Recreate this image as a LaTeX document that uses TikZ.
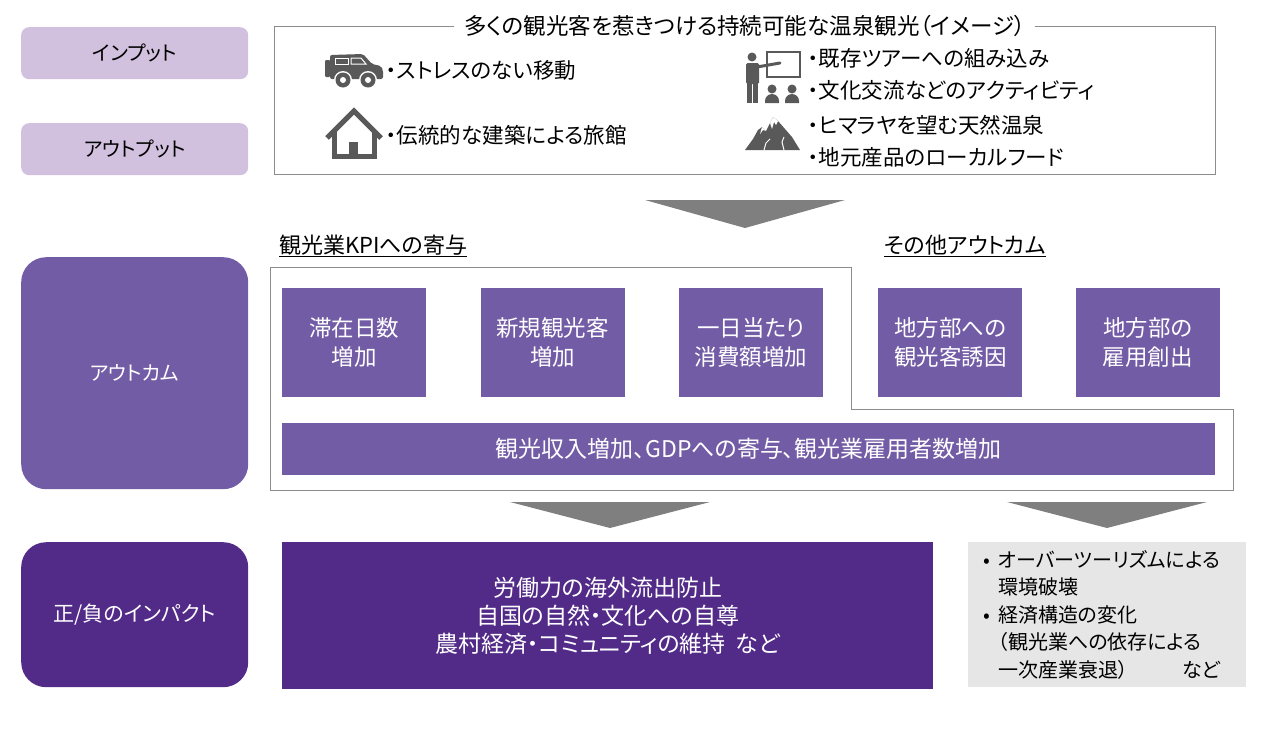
\documentclass[tikz,border=0pt]{standalone}
\usepackage{fontspec}
\setmainfont{Noto Sans CJK JP}[RawFeature=+palt]
\usetikzlibrary{positioning,calc}

\definecolor{lavender}{HTML}{D1C0DE}
\definecolor{midpurple}{HTML}{735CA6}
\definecolor{darkpurple}{HTML}{522A88}
\definecolor{arrowgrey}{HTML}{7F7F7F}
\definecolor{icongrey}{HTML}{595959}
\definecolor{boxgrey}{HTML}{E7E6E6}
\definecolor{linegrey}{HTML}{8C8C8C}

\begin{document}
\begin{tikzpicture}[x=1pt, y=-1pt,
    stagelight/.style={fill=lavender, rounded corners=8pt, minimum width=227pt, minimum height=52pt, inner sep=0pt, anchor=north west, font=\fontsize{20}{24}\selectfont},
    stagemid/.style={fill=midpurple, text=white, rounded corners=25pt, minimum width=227pt, minimum height=232pt, inner sep=0pt, anchor=north west, font=\fontsize{20}{24}\selectfont},
    stagedark/.style={fill=darkpurple, text=white, rounded corners=25pt, minimum width=227pt, minimum height=145pt, inner sep=0pt, anchor=north west, font=\fontsize{21}{24}\selectfont},
    itemtext/.style={anchor=west, inner sep=0pt, font=\fontsize{21.5}{24}\selectfont},
    header/.style={anchor=west, inner sep=0pt, font=\fontsize{22}{24}\selectfont},
    kpibox/.style={fill=midpurple, text=white, minimum width=144pt, minimum height=109pt, inner sep=0pt, align=center, anchor=north west, font=\fontsize{22.5}{29}\selectfont},
    downarrow/.style={fill=arrowgrey}
]
\useasboundingbox (0,0) rectangle (1270,731);

% stages on the left
\node [stagelight] (input) at (21,27) {インプット};
\node [stagelight] (output) at (21,123) {アウトプット};
\node [stagemid] (outcome) at (21,257) {アウトカム};
\node [stagedark] (impact) at (21,542) {正/負のインパクト};

% image of the onsen tourism
\node [draw=linegrey, minimum width=941pt, minimum height=148pt, inner sep=0pt, anchor=north west] (imgbox) at (274,26) {};
\node [fill=white, inner xsep=10pt, inner ysep=0pt, font=\fontsize{22.5}{24}\selectfont] (title) at (imgbox.north) {多くの観光客を惹きつける持続可能な温泉観光（イメージ）};

% car
\begin{scope}[shift={(325,53)}]
    \fill [icongrey, rounded corners=1pt] (0,7) rectangle (5,24);
    \fill [icongrey, rounded corners=2pt] (5,2) -- (38,1) -- (47,11) -- (56,13) -- (58,17) -- (58,26) -- (5,26) -- cycle;
    \draw [white, line width=1pt] (10,5) rectangle (23,11);
    \draw [white, line width=1pt] (26,5) -- (36,5) -- (41,11) -- (26,11) -- cycle;
    \foreach \wx in {18,43} {
        \fill [white] (\wx,27) circle (9);
        \fill [icongrey] (\wx,27) circle (7.5);
        \fill [white] (\wx,27) circle (3);
    }
\end{scope}
% house
\begin{scope}[shift={(325,108)}]
    \draw [icongrey, line width=5pt] (2,30) -- (29,3) -- (56,30);
    \draw [icongrey, line width=5pt] (9,24) -- (9,48) -- (49,48) -- (49,24);
    \fill [icongrey] (24,34) rectangle (33,48);
\end{scope}
% teacher
\begin{scope}[shift={(745,50)}]
    \fill [icongrey] (7,7) circle (4.5);
    \fill [icongrey, rounded corners=1.5pt] (1,13) rectangle (14,34);
    \fill [icongrey] (2,33) rectangle (7,53);
    \fill [icongrey] (8,33) rectangle (13,53);
    \draw [icongrey, line width=2.5pt] (22,2) rectangle (55,27);
    \draw [icongrey, line width=3pt, line cap=round] (12,17) -- (35,13);
    \foreach \ax in {27,47} {
        \fill [icongrey] (\ax,39) circle (4.5);
        \fill [icongrey] (\ax-7,53) -- (\ax-7,51) arc [start angle=180, end angle=360, radius=7] -- (\ax+7,53) -- cycle;
    }
\end{scope}
% mountain
\begin{scope}[shift={(745,115)}]
    \fill [icongrey] (0,35) -- (8,24) -- (13,15) -- (17,12) -- (21,16) -- (28,2) -- (33,6) -- (40,14) -- (47,22) -- (55,35) -- cycle;
    \fill [white] (28,2) -- (33,6) -- (31,10) -- (29,7) -- (27,14) -- (25,8) -- cycle;
    \fill [white] (17,12) -- (21,16) -- (18,15) -- (15,19) -- cycle;
    \draw [white, line width=1pt] (19,35) -- (21,28) -- (25,24);
    \draw [white, line width=1pt] (39,35) -- (37,27) -- (39,22);
\end{scope}

\node [itemtext] (move) at (386,70) {・ストレスのない移動};
\node [itemtext] (ryokan) at (386,135) {・伝統的な建築による旅館};
\node [itemtext] (tour) at (808,58) {・既存ツアーへの組み込み};
\node [itemtext] (culture) at (808,90) {・文化交流などのアクティビティ};
\node [itemtext] (onsen) at (808,125) {・ヒマラヤを望む天然温泉};
\node [itemtext] (food) at (808,157) {・地元産品のローカルフード};

\fill [downarrow] (645,200) -- (845,200) -- (745,228) -- cycle;

% outcomes
\node [header] (kpihead) at (279,246) {\underline{観光業KPIへの寄与}};
\node [header] (otherhead) at (884,246) {\underline{その他アウトカム}};
\draw [linegrey] (270,267) -- (851,267) -- (851,409) -- (1233,409) -- (1233,490) -- (270,490) -- cycle;

\node [kpibox] (stay) at (282,288) {滞在日数\\増加};
\node [kpibox, right=54pt of stay] (newvisit) {新規観光客\\増加};
\node [kpibox, right=54pt of newvisit] (spend) {一日当たり\\消費額増加};
\node [kpibox, right=55pt of spend] (rural) {地方部への\\観光客誘因};
\node [kpibox, right=53pt of rural] (jobs) {地方部の\\雇用創出};
\node [kpibox, minimum width=933pt, minimum height=52pt, font=\fontsize{23}{29}\selectfont] (revenue) at (282,423) {観光収入増加、GDPへの寄与、観光業雇用者数増加};

\fill [downarrow] (510,502) -- (710,502) -- (610,528) -- cycle;
\fill [downarrow] (1007,502) -- (1207,502) -- (1107,528) -- cycle;

% impacts
\node [fill=darkpurple, text=white, minimum width=651pt, minimum height=147pt, inner sep=0pt, align=center, anchor=north west, font=\fontsize{23}{28}\selectfont] (effects) at (282,542) {労働力の海外流出防止\\自国の自然・文化への自尊\\農村経済・コミュニティの維持\hspace{10pt}など};
\node [fill=boxgrey, minimum width=278pt, minimum height=145pt, inner sep=0pt, anchor=north west] (risks) at (968,542) {};
\node [anchor=west, inner sep=0pt, align=left, font=\fontsize{20}{27.5}\selectfont] (risktext) at ([xshift=30pt]risks.west) {\llap{•\hspace{8pt}}オーバーツーリズムによる\\環境破壊\\\llap{•\hspace{8pt}}経済構造の変化\\（観光業への依存による\\一次産業衰退）\hspace{54pt}など};
\end{tikzpicture}
\end{document}
